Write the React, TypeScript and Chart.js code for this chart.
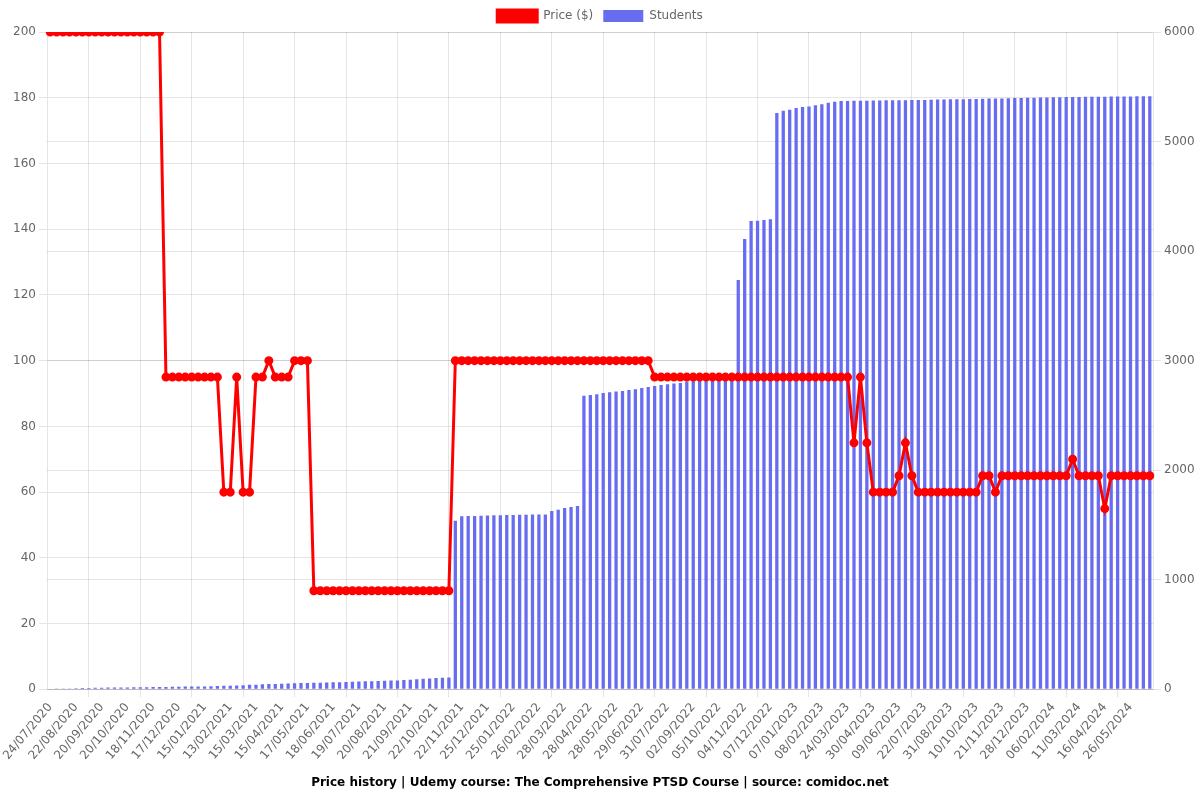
import React, { useEffect, useRef } from "react";
import { Chart, registerables } from "chart.js";

Chart.register(...registerables);

const tickLabels: string[] = [
  "24/07/2020", "22/08/2020", "20/09/2020", "20/10/2020", "18/11/2020", "17/12/2020",
  "15/01/2021", "13/02/2021", "15/03/2021", "15/04/2021", "17/05/2021", "18/06/2021",
  "19/07/2021", "20/08/2021", "21/09/2021", "22/10/2021", "22/11/2021", "25/12/2021",
  "25/01/2022", "26/02/2022", "28/03/2022", "28/04/2022", "28/05/2022", "29/06/2022",
  "31/07/2022", "02/09/2022", "05/10/2022", "04/11/2022", "07/12/2022", "07/01/2023",
  "08/02/2023", "24/03/2023", "30/04/2023", "09/06/2023", "22/07/2023", "31/08/2023",
  "10/10/2023", "21/11/2023", "28/12/2023", "06/02/2024", "11/03/2024", "16/04/2024",
  "26/05/2024",
];

const priceValues: number[] = [
  200, 200, 200, 200, 200, 200, 200, 200, 200, 200, 200, 200, 200, 200, 200, 200, 200, 200,
  95, 95, 95, 95, 95, 95, 95, 95, 95,
  60, 60, 95, 60, 60, 95, 95, 100, 95, 95, 95, 100, 100, 100,
  30, 30, 30, 30, 30, 30, 30, 30, 30, 30, 30, 30, 30, 30, 30, 30, 30, 30, 30, 30, 30, 30,
  100, 100, 100, 100, 100, 100, 100, 100, 100, 100, 100, 100, 100, 100, 100, 100,
  100, 100, 100, 100, 100, 100, 100, 100, 100, 100, 100, 100, 100, 100, 100,
  95, 95, 95, 95, 95, 95, 95, 95, 95, 95, 95, 95, 95, 95, 95, 95,
  95, 95, 95, 95, 95, 95, 95, 95, 95, 95, 95, 95, 95, 95, 95,
  75, 95, 75, 60, 60, 60, 60, 65, 75, 65,
  60, 60, 60, 60, 60, 60, 60, 60, 60, 60,
  65, 65, 60,
  65, 65, 65, 65, 65, 65, 65, 65, 65, 65, 65,
  70, 65, 65, 65, 65, 55,
  65, 65, 65, 65, 65, 65, 65,
];

const studentValues: number[] = [
  5, 7, 8, 9, 11, 12, 13, 14, 15, 16, 17, 18, 18, 19, 20, 20, 21, 22, 22, 23, 24, 25, 25, 26,
  27, 28, 30, 32, 34, 36, 38, 41, 43, 46, 48, 50, 52, 54, 56, 57, 58, 60, 61, 62, 64, 66,
  68, 70, 72, 73, 74, 76, 78, 80, 82, 85, 88, 92, 96, 100, 103, 106, 108,
  1539, 1580, 1582, 1583, 1584, 1587, 1589, 1590, 1591, 1592, 1593, 1594, 1595, 1596, 1597,
  1628, 1640, 1656, 1664, 1673,
  2681, 2687, 2693, 2705, 2711, 2718, 2724, 2733, 2739, 2751, 2760, 2769, 2778, 2785, 2791,
  2797, 2809, 2821,
  2830, 2838, 2844, 2850, 2856, 2862,
  3737, 4110, 4275, 4278, 4284, 4290, 5261, 5282, 5291, 5306, 5315, 5321, 5331, 5340, 5355,
  5364, 5370, 5370,
  5372, 5373, 5373, 5374, 5375, 5376, 5376, 5377, 5378, 5379,
  5380, 5380, 5382, 5384, 5385, 5386, 5387, 5387, 5388, 5389,
  5390, 5392, 5393, 5394, 5396, 5397, 5398, 5399, 5400, 5402,
  5403, 5404, 5405, 5406, 5406, 5407, 5408, 5409, 5409, 5410,
  5411, 5411, 5412, 5412, 5413, 5414, 5414,
];

// Category labels: only every 4th date is readable in the picture.
const categories: string[] = priceValues.map((_, i) => (i % 4 === 0 ? tickLabels[i / 4] ?? "" : ""));

const titleText = "Price history | Udemy course: The Comprehensive PTSD Course | source: comidoc.net";

const AXIS_WIDTH = 47;

export default function App() {
  const canvasRef = useRef<HTMLCanvasElement | null>(null);

  useEffect(() => {
    document.body.style.margin = "0";
    const canvas = canvasRef.current;
    if (!canvas) return;
    Chart.defaults.font.family = "'DejaVu Sans', sans-serif";
    const chart = new Chart(canvas, {
      type: "bar",
      data: {
        labels: categories,
        datasets: [
          {
            type: "line",
            label: "Price ($)",
            data: priceValues,
            borderColor: "#ff0000",
            backgroundColor: "#ff0000",
            borderWidth: 3,
            pointRadius: 3,
            pointBackgroundColor: "#ff0000",
            pointBorderColor: "#ff0000",
            tension: 0,
            yAxisID: "y",
          },
          {
            type: "bar",
            label: "Students",
            data: studentValues,
            backgroundColor: "rgba(104,108,240,1)",
            borderColor: "rgba(104,108,240,1)",
            barPercentage: 0.6,
            categoryPercentage: 0.85,
            yAxisID: "y1",
          },
        ],
      },
      options: {
        responsive: false,
        animation: false,
        plugins: {
          legend: {
            position: "top",
          },
          title: {
            display: true,
            position: "bottom",
            text: titleText,
            color: "#000",
            font: { size: 12, weight: "bold" },
          },
          tooltip: { enabled: false },
        },
        scales: {
          x: {
            ticks: {
              autoSkip: true,
              maxTicksLimit: 43,
            },
          },
          y: {
            position: "left",
            min: 0,
            max: 200,
            ticks: { stepSize: 20 },
            afterFit: (scale: any) => {
              scale.width = AXIS_WIDTH;
            },
          },
          y1: {
            position: "right",
            min: 0,
            max: 6000,
            ticks: { stepSize: 1000, callback: (v: any) => String(v) },
            afterFit: (scale: any) => {
              scale.width = AXIS_WIDTH;
            },
          },
        },
      },
    });
    return () => chart.destroy();
  }, []);

  return (
    <div style={{ width: 1200, height: 800 }}>
      <canvas ref={canvasRef} width={1200} height={800} />
    </div>
  );
}
